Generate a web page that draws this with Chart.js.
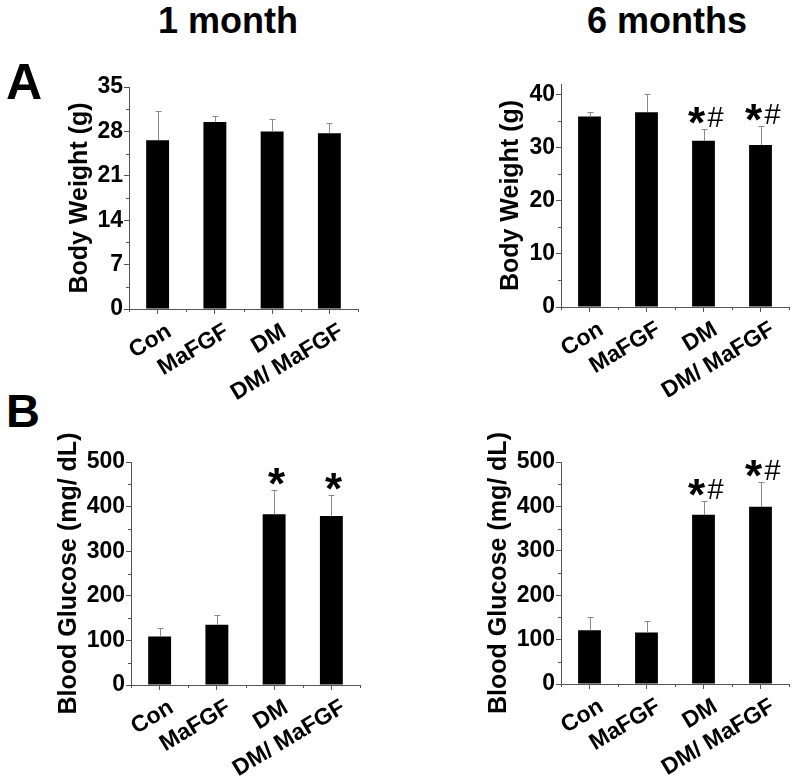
<!DOCTYPE html>
<html>
<head>
<meta charset="utf-8">
<script src="https://cdn.jsdelivr.net/npm/chart.js@4.4.1/dist/chart.umd.min.js"></script>
<style>
  body { margin: 0; background: #fff; width: 797px; height: 781px; position: relative; overflow: hidden; font-family: 'Liberation Sans', Arial, sans-serif; }
  canvas { position: absolute; }
  .lbl { position: absolute; font-weight: bold; color: #000; line-height: 1; white-space: nowrap; }
</style>
</head>
<body>
<div class="lbl" style="left:158px;top:3px;font-size:36px">1 month</div>
<div class="lbl" style="left:587px;top:3px;font-size:36px">6 months</div>
<div class="lbl" style="left:6px;top:57px;font-size:50px">A</div>
<div class="lbl" style="left:6px;top:387px;font-size:47px">B</div>

<canvas id="bw1" width="310" height="330" style="left:61px;top:70px"></canvas>
<canvas id="bw6" width="305" height="330" style="left:492px;top:67px"></canvas>
<canvas id="bg1" width="320" height="361" style="left:50px;top:420px"></canvas>
<canvas id="bg6" width="317" height="361" style="left:480px;top:420px"></canvas>

<script>
// groups
const categories = ['Con', 'MaFGF', 'DM', 'DM/ MaFGF'];

// body weight, 1 month (g): mean and upper SD
const bw1Mean = [26.6, 29.5, 28.0, 27.7];
const bw1Sd = [4.6, 1.0, 1.9, 1.6];
const bw1Ticks = [0, 7, 14, 21, 28, 35];
const bw1Minor = [3.5, 10.5, 17.5, 24.5, 31.5];
const bw1Marks = ['', '', '', ''];

// body weight, 6 months (g)
const bw6Mean = [35.9, 36.7, 31.3, 30.5];
const bw6Sd = [0.8, 3.4, 2.2, 3.5];
const bw6Ticks = [0, 10, 20, 30, 40];
const bw6Minor = [5, 15, 25, 35];
const bw6Marks = ['', '', '*#', '*#'];

// blood glucose, 1 month (mg/dL)
const bg1Mean = [109, 135, 383, 379];
const bg1Sd = [18, 23, 54, 46];
const bgTicks = [0, 100, 200, 300, 400, 500];
const bgMinor = [50, 150, 250, 350, 450];
const bg1Marks = ['', '', '*', '*'];

// blood glucose, 6 months (mg/dL)
const bg6Mean = [121, 116, 381, 399];
const bg6Sd = [31, 25, 31, 55];
const bg6Marks = ['', '', '*#', '*#'];

Chart.defaults.font.family = "'Liberation Sans', Arial, sans-serif";
Chart.defaults.color = '#000';

const AXIS = '#555';

// error bars, minor ticks and significance marks
const extras = {
  id: 'extras',
  afterDatasetsDraw(chart, args, opts) {
    const ctx = chart.ctx;
    const x = chart.scales.x, y = chart.scales.y;
    const meta = chart.getDatasetMeta(0);
    ctx.save();

    // minor ticks
    ctx.strokeStyle = AXIS;
    ctx.lineWidth = 1;
    ctx.beginPath();
    opts.minor.forEach(v => {
      const py = Math.round(y.getPixelForValue(v)) + 0.5;
      ctx.moveTo(y.right - 3, py);
      ctx.lineTo(y.right, py);
    });
    const half = (x.getPixelForValue(1) - x.getPixelForValue(0)) / 2;
    for (let i = 0; i <= categories.length; i++) {
      const px = Math.round(x.getPixelForValue(i) - half) + 0.5;
      ctx.moveTo(px, x.top);
      ctx.lineTo(px, x.top + 3);
    }
    ctx.stroke();

    // error bars (upper only)
    ctx.strokeStyle = '#8a8a8a';
    opts.means.forEach((m, i) => {
      const px = Math.round(meta.data[i].x) + 0.5;
      const top = Math.round(y.getPixelForValue(m + opts.sd[i])) + 0.5;
      const base = y.getPixelForValue(m);
      ctx.beginPath();
      ctx.moveTo(px, base);
      ctx.lineTo(px, top);
      ctx.moveTo(px - 3, top);
      ctx.lineTo(px + 3, top);
      ctx.stroke();

      const mark = opts.marks[i];
      if (!mark) return;
      ctx.fillStyle = '#000';
      ctx.textBaseline = 'alphabetic';
      ctx.textAlign = 'center';
      const starX = mark.length > 1 ? px - 8 : px + 2;
      ctx.font = "bold 44px 'Liberation Sans', Arial, sans-serif";
      ctx.fillText('*', starX, top - 16 + 24);
      if (mark.indexOf('#') >= 0) {
        ctx.font = "29px 'Liberation Sans', Arial, sans-serif";
        ctx.fillText('#', px + 11, top - 13 + 10);
      }
    });
    ctx.restore();
  }
};

function makeChart(id, means, sd, marks, ticks, minor, yMax, yTitle, box) {
  new Chart(document.getElementById(id), {
    type: 'bar',
    data: {
      labels: categories,
      datasets: [{
        data: means,
        backgroundColor: '#000',
        borderColor: '#000',
        borderWidth: 0,
        categoryPercentage: 1,
        barPercentage: 0.4
      }]
    },
    options: {
      responsive: false,
      animation: false,
      events: [],
      layout: { padding: { top: box.padT, right: box.padR, left: 0, bottom: 0 } },
      plugins: {
        legend: { display: false },
        tooltip: { enabled: false },
        extras: { means: means, sd: sd, marks: marks, minor: minor }
      },
      scales: {
        x: {
          offset: true,
          grid: { display: true, offset: false, drawOnChartArea: false, tickLength: 5, color: AXIS },
          border: { display: true, color: AXIS, width: 1 },
          ticks: {
            autoSkip: false,
            minRotation: 31,
            maxRotation: 31,
            padding: 4,
            labelOffset: 12,
            font: { size: 23, weight: 'bold' }
          },
          afterFit(scale) { scale.height = box.xH; }
        },
        y: {
          min: 0,
          max: yMax,
          grid: { display: true, drawOnChartArea: false, tickLength: 5, color: AXIS },
          border: { display: true, color: AXIS, width: 1 },
          ticks: {
            padding: 1,
            font: { size: 23, weight: 'bold' }
          },
          title: {
            display: true,
            text: yTitle,
            font: { size: 25, weight: 'bold' },
            padding: { top: 4, bottom: 0 }
          },
          afterBuildTicks(scale) { scale.ticks = ticks.map(v => ({ value: v })); },
          afterFit(scale) { scale.width = box.yW; }
        }
      }
    },
    plugins: [extras]
  });
}

makeChart('bw1', bw1Mean, bw1Sd, bw1Marks, bw1Ticks, bw1Minor, 35, 'Body Weight (g)',
  { padT: 17, padR: 13, yW: 68, xH: 91 });
makeChart('bw6', bw6Mean, bw6Sd, bw6Marks, bw6Ticks, bw6Minor, 42, 'Body Weight (g)',
  { padT: 17, padR: 8, yW: 69, xH: 90 });
makeChart('bg1', bg1Mean, bg1Sd, bg1Marks, bgTicks, bgMinor, 500, 'Blood Glucose (mg/ dL)',
  { padT: 42, padR: 10, yW: 81, xH: 96 });
makeChart('bg6', bg6Mean, bg6Sd, bg6Marks, bgTicks, bgMinor, 500, 'Blood Glucose (mg/ dL)',
  { padT: 42, padR: 8, yW: 81, xH: 97 });
</script>
</body>
</html>
